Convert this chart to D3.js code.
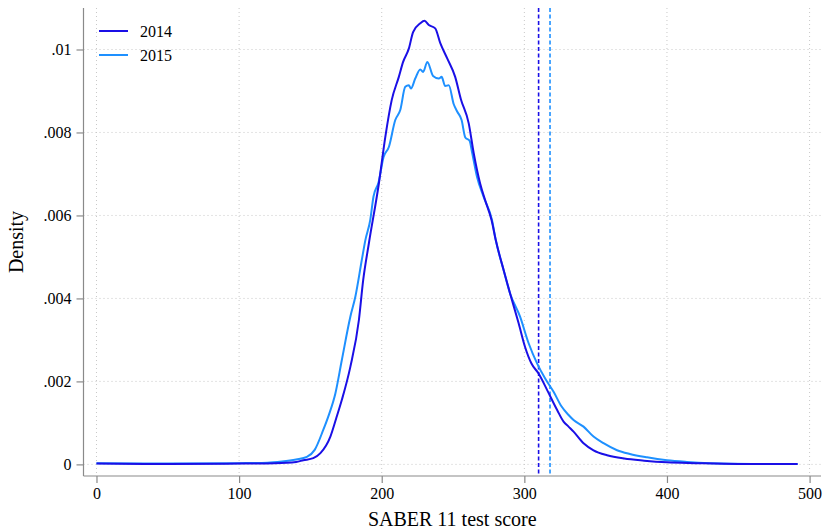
<!DOCTYPE html>
<html>
<head>
<meta charset="utf-8">
<script src="https://cdn.jsdelivr.net/npm/d3@7"></script>
<style>
  html, body { margin: 0; padding: 0; background: #fff; }
  svg { display: block; }
  text { font-family: "Liberation Serif", "Times New Roman", serif; fill: #000; }
</style>
</head>
<body>
<svg id="chart" width="823" height="530"></svg>
<script>
// ---- data ----
const seriesNames = ["2014", "2015"];
const seriesColors = ["#1a0fe6", "#1e90ff"];

const scores2014 = [0, 50, 100, 125, 140, 145, 152, 157, 164, 168, 172, 178, 184, 187, 191, 198, 202.5, 207, 212, 215, 219, 222, 227, 230, 233, 237.5, 241, 246, 251.5, 255.5, 261, 264.5, 269, 272.5, 277, 280, 285.5, 290, 296, 300.5, 305, 310, 316, 323, 327.5, 331, 334.5, 341.5, 348.5, 358, 370, 384, 400, 420, 450, 491.6];
const density2014 = [0.00002, 0.00001, 0.00002, 0.00003, 0.00006, 0.0001, 0.00015, 0.00027, 0.00067, 0.0011, 0.00155, 0.00235, 0.00348, 0.00444, 0.00533, 0.00677, 0.00789, 0.00878, 0.00934, 0.0097, 0.01002, 0.01042, 0.01063, 0.01069, 0.01059, 0.01051, 0.01016, 0.00978, 0.00934, 0.0088, 0.00822, 0.0075, 0.00677, 0.00637, 0.00589, 0.0054, 0.00468, 0.00412, 0.0034, 0.00283, 0.00243, 0.00219, 0.00179, 0.00131, 0.00103, 0.00091, 0.00079, 0.00051, 0.00034, 0.00022, 0.00014, 0.00009, 0.00005, 0.00003, 0.00001, 0.00001];

const scores2015 = [0, 50, 100, 120, 130, 140, 147.5, 153, 159, 163, 167.5, 172, 178, 181.5, 186, 188.5, 192, 194.2, 197.8, 201.3, 205, 209.5, 213, 216.5, 219, 220.5, 223.5, 227, 229, 232, 236, 240, 242, 244.5, 247, 250.5, 253, 256, 258.6, 261.6, 263.3, 266.8, 271.4, 277.3, 280, 285.5, 290, 297, 303, 309, 314.6, 320.5, 326, 331, 334.5, 341.5, 348.5, 355.5, 365, 374, 386, 400, 414, 430, 460, 491.6];
const density2015 = [0.00003, 0.00002, 0.00003, 0.00004, 0.00007, 0.00012, 0.00018, 0.00035, 0.00083, 0.0012, 0.00171, 0.00251, 0.00356, 0.00404, 0.00492, 0.0054, 0.0059, 0.00645, 0.0068, 0.00741, 0.00765, 0.0083, 0.00854, 0.0091, 0.00914, 0.00906, 0.0093, 0.00952, 0.00946, 0.0097, 0.00936, 0.0093, 0.00934, 0.00912, 0.00914, 0.00868, 0.0085, 0.0083, 0.00788, 0.0078, 0.00753, 0.00693, 0.00645, 0.00589, 0.0054, 0.00468, 0.00412, 0.00356, 0.00292, 0.00243, 0.00207, 0.00175, 0.0014, 0.00119, 0.00107, 0.00091, 0.00067, 0.00051, 0.00034, 0.00025, 0.00017, 0.0001, 0.00006, 0.00003, 0.00001, 0.00001];

const meanLines = [310, 318];   // vertical dashed reference lines (2014, 2015)

const xTicks = [0, 100, 200, 300, 400, 500];
const yTicks = [0, 0.002, 0.004, 0.006, 0.008, 0.01];
const yTickLabels = ["0", ".002", ".004", ".006", ".008", ".01"];
const xTitle = "SABER 11 test score";
const yTitle = "Density";

// ---- layout ----
const svg = d3.select("#chart");
const plot = { left: 83.5, right: 821, top: 8, bottom: 476 };
const serif = "Liberation Serif, Times New Roman, serif";

const x = d3.scaleLinear().domain([-9.1, 508]).range([plot.left, plot.right]);
const y = d3.scaleLinear().domain([-0.00028, 0.011]).range([plot.bottom, plot.top]);

// gridlines
const grid = svg.append("g");
grid.selectAll("line.hg").data(yTicks).enter().append("line")
  .attr("x1", plot.left).attr("x2", plot.right)
  .attr("y1", d => y(d)).attr("y2", d => y(d))
  .attr("stroke", "#c8c8c8").attr("stroke-width", 1).attr("stroke-dasharray", "1,3");
grid.selectAll("line.vg").data(xTicks).enter().append("line")
  .attr("x1", d => x(d)).attr("x2", d => x(d))
  .attr("y1", plot.top).attr("y2", plot.bottom)
  .attr("stroke", "#c8c8c8").attr("stroke-width", 1).attr("stroke-dasharray", "1,3");

// axes
const yAxis = d3.axisLeft(y).tickValues(yTicks).tickFormat((d, i) => yTickLabels[i]).tickSize(7).tickPadding(5);
const xAxis = d3.axisBottom(x).tickValues(xTicks).tickFormat(d3.format("d")).tickSize(7).tickPadding(5);

const gy = svg.append("g").attr("transform", `translate(${plot.left},0)`).call(yAxis);
const gx = svg.append("g").attr("transform", `translate(0,${plot.bottom})`).call(xAxis);
[gx, gy].forEach(g => {
  g.attr("font-family", serif).attr("font-size", 16);
  g.select(".domain").attr("stroke", "#8a8a8a").attr("stroke-width", 1.2);
  g.selectAll(".tick line").attr("stroke", "#8a8a8a").attr("stroke-width", 1.2);
  g.selectAll(".tick text").attr("font-family", serif).style("font-family", serif).style("font-size", "16px").attr("fill", "#000");
});
gx.select(".domain").attr("d", `M${plot.left},0H${plot.right}`);
gy.select(".domain").attr("d", `M0,${plot.top}V${plot.bottom}`);

// vertical dashed lines
svg.append("g").selectAll("line").data(meanLines).enter().append("line")
  .attr("x1", d => x(d)).attr("x2", d => x(d))
  .attr("y1", plot.top).attr("y2", plot.bottom)
  .attr("stroke", (d, i) => seriesColors[i]).attr("stroke-width", 1.6)
  .attr("stroke-dasharray", "4,2.5");

// density curves
const line = d3.line().x(d => x(d[0])).y(d => y(d[1])).curve(d3.curveMonotoneX);
const series = [
  d3.zip(scores2014, density2014),
  d3.zip(scores2015, density2015)
];
svg.append("path").datum(series[1]).attr("d", line)
  .attr("fill", "none").attr("stroke", seriesColors[1]).attr("stroke-width", 2);
svg.append("path").datum(series[0]).attr("d", line)
  .attr("fill", "none").attr("stroke", seriesColors[0]).attr("stroke-width", 2);

// legend
const leg = svg.append("g");
seriesNames.forEach((name, i) => {
  const ly = 31 + i * 24;
  leg.append("line").attr("x1", 99).attr("x2", 128).attr("y1", ly).attr("y2", ly)
    .attr("stroke", seriesColors[i]).attr("stroke-width", 2);
  leg.append("text").attr("x", 140).attr("y", ly + 6).style("font-size", "16px").text(name);
});

// axis titles
svg.append("text").attr("x", (plot.left + plot.right) / 2).attr("y", 526)
  .attr("text-anchor", "middle").style("font-size", "20px").text(xTitle);
svg.append("text").attr("transform", `translate(23,${(plot.top + plot.bottom) / 2}) rotate(-90)`)
  .attr("text-anchor", "middle").style("font-size", "20px").text(yTitle);
</script>
</body>
</html>
